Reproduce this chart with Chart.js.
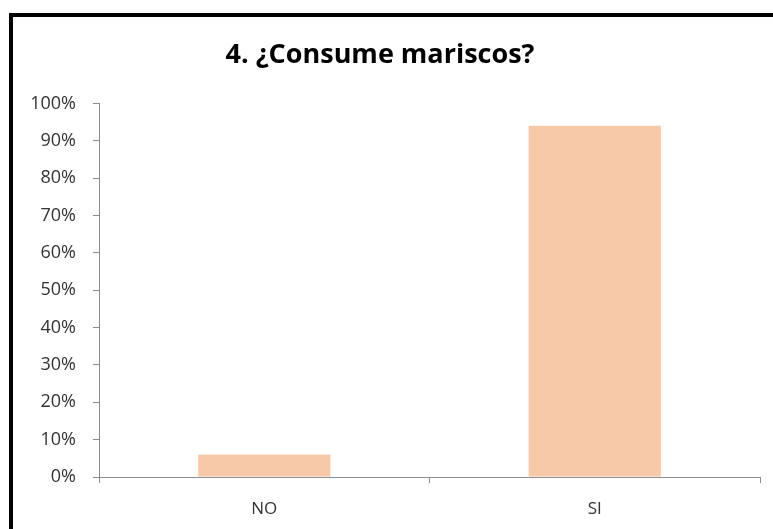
<!DOCTYPE html>
<html>
<head>
<meta charset="utf-8">
<script src="https://cdn.jsdelivr.net/npm/chart.js@4"></script>
<style>
  html, body { margin: 0; padding: 0; background: #fff; }
  #frame {
    position: absolute; left: 9px; top: 13px; width: 800px; height: 560px;
    border-left: 4px solid #000; border-top: 4px solid #000;
  }
  #wrap { position: absolute; left: 0; top: 0; width: 773px; height: 529px; overflow: hidden; }
  canvas { position: absolute; left: 0; top: 0; }
</style>
</head>
<body>
<div id="wrap">
  <div id="frame"></div>
  <canvas id="chart" width="773" height="529"></canvas>
</div>
<script>
// datos de la grafica
const categorias = ["NO", "SI"];
const porcentajes = [6, 94];
const titulo = "4. ¿Consume mariscos?";

const gris = "#8c8c8c";

const ctx = document.getElementById("chart").getContext("2d");
const chart = new Chart(ctx, {
  type: "bar",
  data: {
    labels: categorias,
    datasets: [
      {
        data: porcentajes,
        backgroundColor: "#F8C9A8",
        categoryPercentage: 1,
        barPercentage: 0.4,
      },
    ],
  },
  options: {
    responsive: false,
    animation: false,
    layout: { padding: { right: 13 } },
    plugins: {
      legend: { display: false },
      tooltip: { enabled: false },
      title: {
        display: true,
        text: titulo,
        color: "#000",
        font: { family: "Open Sans", size: 27, weight: "bold" },
        padding: { top: 39, bottom: 32 },
      },
    },
    scales: {
      x: {
        grid: { drawOnChartArea: false, drawTicks: true, tickLength: 6, color: gris, offset: true },
        border: { display: true, color: gris },
        ticks: { color: "#333", font: { family: "Open Sans", size: 17 }, padding: 16 },
        afterFit: (scale) => { scale.height = 52; },
      },
      y: {
        min: 0,
        max: 100,
        grid: { drawOnChartArea: false, drawTicks: true, tickLength: 6, color: gris },
        border: { display: true, color: gris },
        ticks: {
          stepSize: 10,
          color: "#333",
          padding: 17,
          font: { family: "Open Sans", size: 18 },
          callback: (v) => v + "%",
        },
        afterFit: (scale) => { scale.width = 99; },
      },
    },
  },
});
</script>
</body>
</html>
